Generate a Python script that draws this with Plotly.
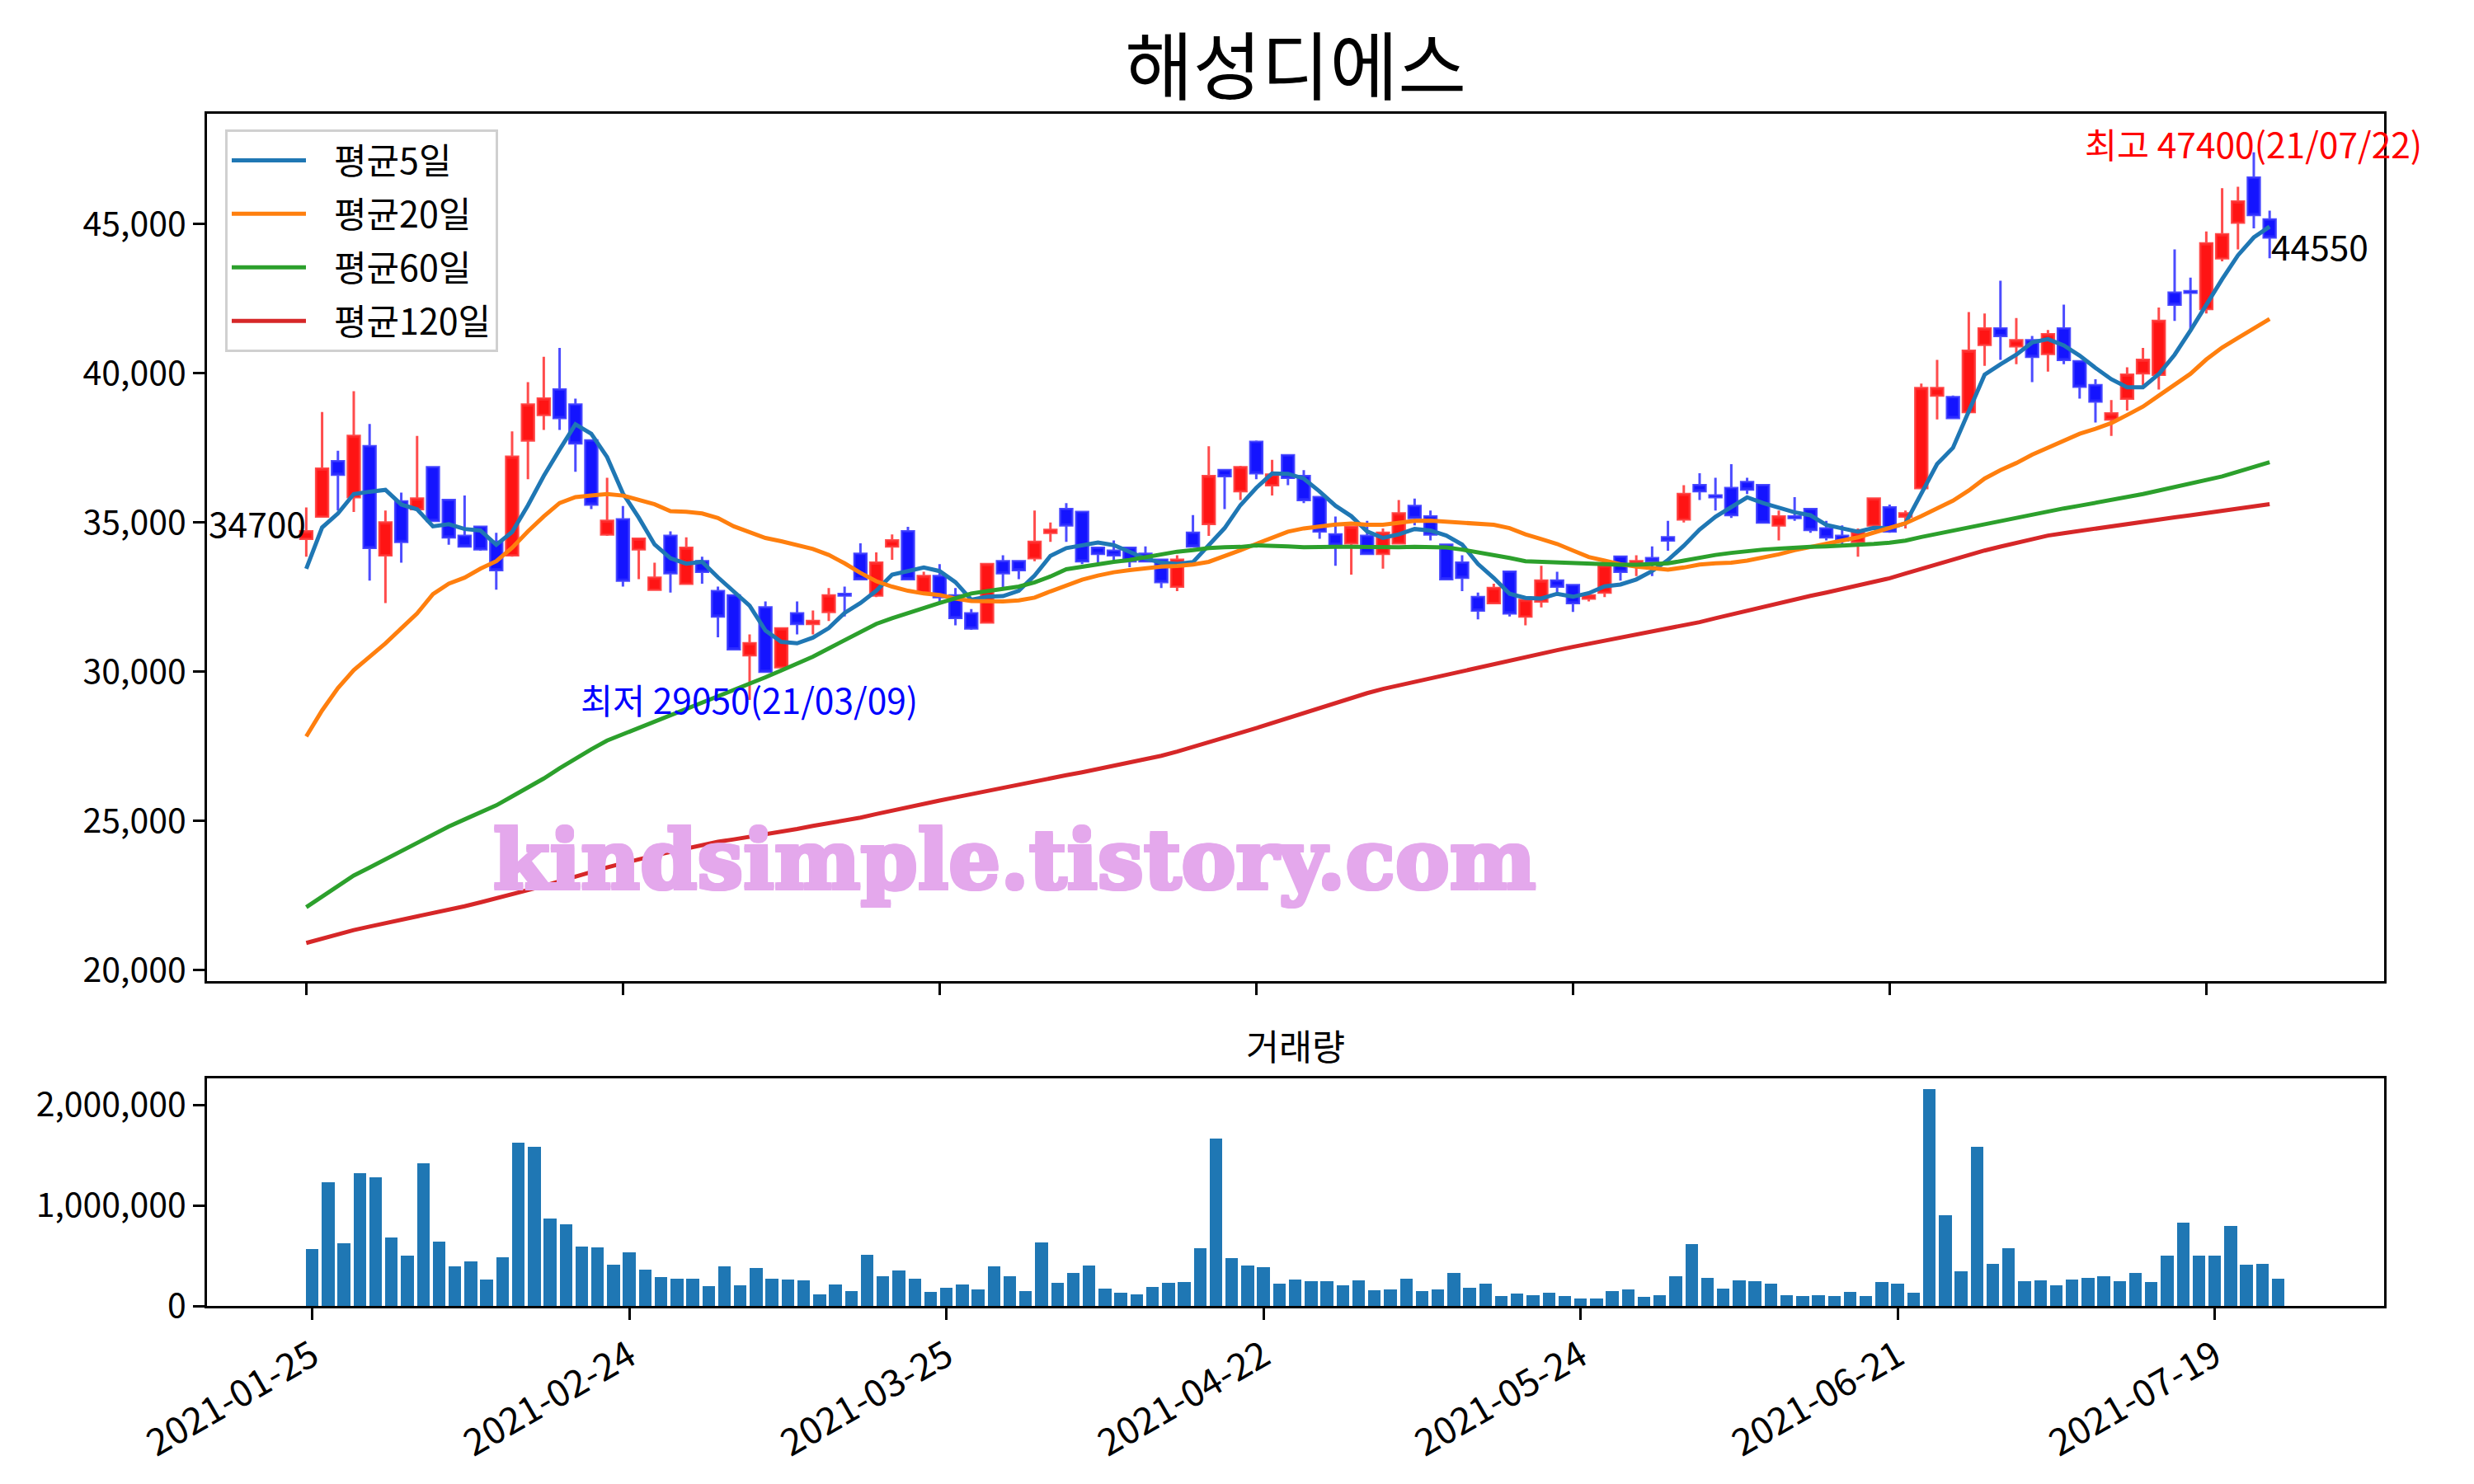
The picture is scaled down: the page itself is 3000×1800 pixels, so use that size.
import plotly.graph_objects as go

# ---------------- data ----------------
idx = list(range(125))

open_ = [34450, 35200, 37050, 35850, 37550, 33900, 35700, 35450, 36850, 35750,
         34550, 34850, 34350, 33900, 37750, 38600, 39450, 38950, 37750, 34600,
         35100, 34100, 32750, 34550, 32950, 33700, 32700, 32550, 30550, 32150,
         30150, 31950, 31600, 32000, 32600, 33950, 32550, 34200, 34700, 32650,
         33200, 32550, 31950, 31650, 33700, 33700, 33800, 34650, 35450, 35350,
         34150, 34050, 34150, 33950, 33750, 32850, 34650, 34950, 36750, 36050,
         37700, 36250, 37250, 36550, 35850, 34600, 34300, 34550, 33950, 34300,
         35550, 35200, 34250, 33650, 32500, 32300, 33350, 31850, 32350, 33050,
         32900, 32450, 32650, 33850, 33650, 33800, 34500, 35100, 36250, 35900,
         36150, 36350, 36250, 34900, 35200, 35450, 34800, 34550, 34350, 34900,
         35500, 35200, 36150, 39250, 39200, 38700, 40950, 41500, 40900, 41100,
         40650, 41500, 40400, 39600, 38450, 39150, 40000, 39950, 42700, 42750,
         42150, 43850, 45050, 46550, 45150]

high = [35500, 38700, 37400, 39400, 38300, 35400, 36000, 37900, 36850, 35750,
        35900, 34850, 34650, 38050, 39700, 40550, 40850, 39150, 37750, 36500,
        35550, 34450, 33650, 34700, 34500, 33850, 32850, 32550, 31250, 32350,
        31450, 32350, 32050, 32800, 32850, 34300, 34000, 34600, 34850, 33350,
        33600, 32800, 32100, 33600, 33900, 33700, 35400, 35000, 35650, 35350,
        34150, 34400, 34150, 34200, 33750, 33900, 35250, 37550, 36750, 36900,
        37750, 37100, 37250, 36750, 35850, 35200, 34850, 35050, 34800, 35750,
        35800, 35400, 34250, 33900, 32650, 32950, 33350, 32400, 33550, 33350,
        32900, 32550, 33700, 33850, 33900, 34200, 35050, 36250, 36650, 36500,
        36950, 36500, 36250, 35400, 35850, 35450, 35050, 34900, 34800, 35800,
        35600, 35400, 39650, 40450, 39250, 42050, 42000, 43100, 41850, 41250,
        41450, 42300, 40400, 39800, 39100, 40200, 40850, 42200, 44150, 43200,
        44750, 46200, 46250, 47400, 45450]

low = [33850, 35200, 35400, 35350, 33050, 32300, 33650, 35450, 35050, 34250,
       34200, 34050, 32750, 33850, 36450, 38100, 38100, 36700, 35450, 34550,
       32850, 33100, 32750, 32650, 32950, 32950, 31150, 30750, 29050, 30000,
       30150, 31250, 31250, 31700, 31850, 33100, 32500, 33750, 33100, 32650,
       32300, 31550, 31400, 31650, 32800, 33100, 33700, 34350, 34350, 33600,
       33650, 33700, 33500, 33700, 32800, 32700, 34200, 34550, 35450, 35750,
       36450, 35900, 36250, 35650, 34450, 33550, 33250, 33950, 33450, 34300,
       34900, 34400, 33100, 32700, 31750, 32300, 31850, 31550, 32150, 32650,
       32000, 32350, 32500, 33050, 33200, 33200, 34050, 35000, 35750, 35400,
       35150, 35950, 35000, 34400, 35050, 34650, 34400, 34250, 33850, 34900,
       34650, 34800, 36150, 38450, 38500, 38700, 40250, 40450, 40300, 39700,
       40050, 40300, 39150, 38350, 37900, 38750, 39600, 39450, 41750, 41450,
       42000, 43750, 44150, 44850, 43850]

close = [34700, 36800, 36600, 37900, 34150, 35000, 34350, 35800, 35050, 34500,
         34200, 34100, 33400, 37200, 38950, 39150, 38500, 37650, 35600, 35050,
         33050, 34450, 33150, 33300, 34150, 33350, 31850, 30750, 30950, 30000,
         31450, 31600, 31700, 32550, 32550, 33100, 33650, 34400, 33100, 33200,
         32500, 31800, 31450, 33600, 33300, 33400, 34350, 34750, 34900, 33700,
         33950, 33900, 33700, 33700, 33000, 33750, 34200, 36550, 36550, 36850,
         36650, 36600, 36500, 35750, 34700, 34250, 34850, 33950, 34650, 35300,
         35150, 34600, 33100, 33150, 32050, 32800, 31950, 32400, 33050, 32850,
         32300, 32550, 33550, 33350, 33700, 33700, 34400, 35950, 36050, 35850,
         35250, 36100, 35000, 35200, 35150, 34750, 34500, 34400, 34650, 35800,
         34700, 35300, 39500, 39500, 38500, 40750, 41500, 41250, 41100, 40550,
         41300, 40450, 39550, 39050, 38650, 39950, 40450, 41750, 42300, 42700,
         44350, 44650, 45750, 45300, 44550]

volume = [563000, 1227000, 620000, 1317000, 1276000, 678000, 497000, 1415000, 637000, 391000,
          440000, 260000, 481000, 1620000, 1579000, 866000, 809000, 587000, 579000, 407000,
          530000, 358000, 284000, 268000, 268000, 194000, 391000, 202000, 374000, 268000,
          260000, 251000, 112000, 210000, 145000, 505000, 292000, 350000, 268000, 137000,
          178000, 210000, 161000, 391000, 292000, 145000, 628000, 227000, 325000, 399000,
          169000, 128000, 112000, 186000, 227000, 235000, 571000, 1661000, 473000, 399000,
          383000, 219000, 260000, 243000, 243000, 202000, 251000, 153000, 161000, 268000,
          145000, 161000, 325000, 178000, 219000, 96000, 120000, 104000, 128000, 96000,
          71000, 71000, 145000, 161000, 87000, 104000, 292000, 612000, 276000, 169000,
          251000, 243000, 219000, 104000, 96000, 104000, 96000, 137000, 96000, 235000,
          219000, 128000, 2155000, 899000, 342000, 1579000, 415000, 571000, 243000, 251000,
          202000, 260000, 276000, 292000, 243000, 325000, 235000, 497000, 825000, 497000,
          497000, 792000, 407000, 415000, 268000]

ma5 = [33450, 34830, 35300, 35950, 36030, 36090, 35600, 35440, 34870, 34940,
       34780, 34730, 34250, 34680, 35570, 36560, 37440, 38290, 37970, 37190,
       35970, 35160, 34260, 33800, 33620, 33680, 33160, 32680, 32210, 31380,
       31000, 30950, 31140, 31460, 31970, 32300, 32710, 33250, 33360, 33490,
       33370, 33000, 32410, 32510, 32530, 32710, 33220, 33880, 34140, 34220,
       34330, 34240, 34030, 33790, 33650, 33610, 33670, 34240, 34810, 35580,
       36160, 36640, 36630, 36470, 36040, 35560, 35210, 34700, 34480, 34600,
       34780, 34730, 34560, 34260, 33610, 33140, 32610, 32470, 32450, 32610,
       32510, 32630, 32860, 32920, 33090, 33370, 33740, 34220, 34760, 35190,
       35500, 35840, 35650, 35480, 35340, 35240, 34920, 34800, 34690, 34820,
       34810, 34970, 35990, 36960, 37500, 38710, 39950, 40300, 40620, 41030,
       41140, 40930, 40590, 40180, 39800, 39530, 39530, 39970, 40620, 41430,
       42310, 43150, 43950, 44550, 44910]

ma20 = [27830, 28700, 29450, 30050, 30500, 30950, 31450, 31950, 32600, 32950,
        33150, 33450, 33700, 34150, 34700, 35200, 35650, 35850, 35900, 35950,
        35900, 35750, 35610, 35380, 35360, 35300, 35150, 34870, 34690, 34480,
        34370, 34230, 34110, 33910, 33630, 33310, 33030, 32850, 32710, 32620,
        32570, 32450, 32370, 32360, 32350, 32390, 32480, 32690, 32890, 33080,
        33220, 33330, 33400, 33460, 33520, 33540, 33590, 33680, 33860, 34070,
        34280, 34480, 34690, 34800, 34880, 34930, 34960, 34920, 34920, 34990,
        35050, 35060, 35030, 35010, 34970, 34920, 34810, 34600, 34440, 34280,
        34060, 33840, 33720, 33600, 33520, 33460, 33420, 33490, 33590, 33630,
        33650, 33720, 33820, 33930, 34070, 34180, 34290, 34390, 34500, 34660,
        34810, 34970, 35210, 35470, 35730, 36070, 36470, 36750, 36990, 37270,
        37510, 37730, 37970, 38140, 38330, 38600, 38880, 39250, 39610, 39980,
        40460, 40860, 41180, 41500, 41820]

ma60 = [22110, 22460, 22810, 23170, 23440, 23720, 23990, 24260, 24540, 24810,
        25050, 25280, 25520, 25820, 26120, 26420, 26760, 27100, 27400, 27690,
        27900, 28120, 28340, 28540, 28750, 28960, 29170, 29370, 29580, 29810,
        30040, 30270, 30500, 30780, 31050, 31330, 31600, 31790, 31970, 32130,
        32300, 32460, 32620, 32700, 32760, 32850, 32990, 33190, 33430, 33520,
        33610, 33680, 33740, 33830, 33930, 34020, 34070, 34140, 34170, 34180,
        34230, 34230, 34200, 34170, 34190, 34180, 34180, 34170, 34160, 34170,
        34180, 34180, 34160, 34090, 34000, 33930, 33810, 33700, 33680, 33650,
        33630, 33600, 33590, 33580, 33580, 33590, 33630, 33720, 33820, 33910,
        33980, 34050, 34090, 34120, 34160, 34180, 34200, 34220, 34240, 34280,
        34320, 34390, 34510, 34620, 34710, 34820, 34920, 35030, 35140, 35260,
        35370, 35470, 35560, 35650, 35740, 35840, 35950, 36070, 36180, 36300,
        36420, 36540, 36700, 36860, 37020]

ma120 = [20910, 21060, 21200, 21340, 21460, 21570, 21680, 21800, 21920, 22030,
         22140, 22270, 22400, 22540, 22680, 22820, 22980, 23140, 23300, 23440,
         23580, 23720, 23840, 23960, 24080, 24200, 24300, 24380, 24460, 24550,
         24640, 24730, 24830, 24920, 25010, 25110, 25230, 25350, 25460, 25570,
         25680, 25790, 25900, 26000, 26110, 26210, 26320, 26420, 26530, 26630,
         26740, 26840, 26950, 27050, 27180, 27320, 27470, 27630, 27790, 27950,
         28110, 28280, 28450, 28620, 28790, 28960, 29130, 29280, 29420, 29540,
         29650, 29770, 29890, 30010, 30130, 30260, 30390, 30510, 30620, 30720,
         30830, 30930, 31040, 31140, 31240, 31330, 31430, 31530, 31660, 31790,
         31920, 32050, 32170, 32300, 32420, 32540, 32650, 32770, 32880, 32990,
         33130, 33290, 33450, 33610, 33760, 33910, 34060, 34190, 34310, 34440,
         34560, 34640, 34720, 34790, 34870, 34940, 35010, 35090, 35170, 35240,
         35320, 35390, 35470, 35540, 35610]

tick_pos = [0, 20, 40, 60, 80, 100, 120]
tick_labels = ["2021-01-25", "2021-02-24", "2021-03-25", "2021-04-22",
               "2021-05-24", "2021-06-21", "2021-07-19"]
price_ticks = [20000, 25000, 30000, 35000, 40000, 45000]
volume_ticks = [0, 1000000, 2000000]

title_text = "해성디에스"
volume_title = "거래량"
ma_names = ["평균5일", "평균20일", "평균60일", "평균120일"]
ma_colors = ["#1f77b4", "#ff7f0e", "#2ca02c", "#d62728"]
high_label = "최고 47400(21/07/22)"
low_label = "최저 29050(21/03/09)"
watermark = "kindsimple.tistory.com"

# ---------------- figure ----------------
OFF = 8                      # page body margin of the html page
W, H = 3000 - OFF, 1800 - OFF
FONT = "Noto Sans CJK KR, Noto Sans, sans-serif"
WM_COLOR = "#E4A8EC"
NBSP = "\u00a0"


def px_x(x):
    return (x - OFF) / W


def px_y(y):
    return 1 - (y - OFF) / H


X0, X1 = px_x(251), px_x(2891)

fig = go.Figure()

fig.add_trace(go.Candlestick(
    x=idx, open=open_, high=high, low=low, close=close,
    increasing=dict(line=dict(color="rgba(255,45,45,0.85)", width=3),
                    fillcolor="rgba(255,0,0,0.92)"),
    decreasing=dict(line=dict(color="rgba(45,45,255,0.85)", width=3),
                    fillcolor="rgba(0,0,255,0.92)"),
    whiskerwidth=0, showlegend=False, xaxis="x", yaxis="y", hoverinfo="skip"))

for name, vals, col in zip(ma_names, [ma5, ma20, ma60, ma120], ma_colors):
    fig.add_trace(go.Scatter(x=idx, y=vals, mode="lines", name=NBSP * 3 + name,
                             line=dict(color=col, width=5),
                             xaxis="x", yaxis="y", legendgroup=name))

fig.add_trace(go.Bar(x=idx, y=volume, width=0.8, marker=dict(color="#1f77b4", line=dict(width=0)),
                     showlegend=False, xaxis="x2", yaxis="y2"))

axis_common = dict(showline=True, linewidth=3, linecolor="black", mirror=True,
                   ticks="outside", ticklen=14, tickwidth=3, tickcolor="black",
                   showgrid=False, zeroline=False, automargin=False,
                   tickfont=dict(size=41, family=FONT, color="black"))

fig.update_layout(
    width=W, height=H,
    margin=dict(l=0, r=0, t=0, b=0, pad=0, autoexpand=False),
    paper_bgcolor="white", plot_bgcolor="white",
    boxgap=0.25, boxgroupgap=0.0,
    bargap=0,
    font=dict(family=FONT, size=41, color="black"),
    title=dict(text=title_text, x=(X0 + X1) / 2, xanchor="center",
               y=px_y(82), yanchor="middle", automargin=False,
               font=dict(size=90, family=FONT, color="black")),
    xaxis=dict(domain=[X0, X1], range=[-6.27, 131.23], tickvals=tick_pos,
               showticklabels=False, rangeslider=dict(visible=False), anchor="y",
               **axis_common),
    yaxis=dict(domain=[px_y(1190), px_y(138)], range=[19632, 48693],
               tickvals=price_ticks, tickformat=",", anchor="x", **axis_common),
    xaxis2=dict(domain=[X0, X1], range=[-6.64, 130.68], tickvals=tick_pos,
                ticktext=tick_labels, tickangle=-30, anchor="y2", **axis_common),
    yaxis2=dict(domain=[px_y(1584), px_y(1308)], range=[0, 2263000],
                tickvals=volume_ticks, tickformat=",", anchor="x2", **axis_common),
    legend=dict(x=px_x(273), y=px_y(157), xanchor="left", yanchor="top",
                bgcolor="rgba(255,255,255,0.85)", bordercolor="#d0d0d0", borderwidth=3,
                font=dict(size=43, family=FONT, color="black"),
                tracegroupgap=6, itemwidth=90),
)
fig.update_xaxes(tickfont=dict(size=45), selector=dict(anchor="y2"))

wm_shadow = ", ".join(f"{dx}px {dy}px 0px {WM_COLOR}" for dx, dy in
                      [(2, 0), (-2, 0), (0, 2), (0, -2), (2, 2), (-2, -2), (2, -2), (-2, 2)])

ann_font = dict(size=42.5, family=FONT)
annotations = [
    dict(text=volume_title, x=(X0 + X1) / 2, y=px_y(1267), xref="paper", yref="paper",
         showarrow=False, xanchor="center", yanchor="middle",
         font=dict(size=43.5, family=FONT, color="black")),
    dict(text=f"<b>{watermark}</b>", x=44.7, y=23700, xref="x", yref="y",
         showarrow=False, xanchor="center", yanchor="middle",
         font=dict(size=99, family="DejaVu Serif", color=WM_COLOR, shadow=wm_shadow)),
    dict(text=str(close[0]), x=idx[0] + 0.1, y=35000, xref="x", yref="y", showarrow=False,
         xanchor="right", yanchor="middle", font=dict(color="black", **ann_font)),
    dict(text=str(close[-1]), x=idx[-1], y=44300, xref="x", yref="y", showarrow=False,
         xanchor="left", yanchor="middle", font=dict(color="black", **ann_font)),
    dict(text=high_label, x=123, y=47700, xref="x", yref="y", showarrow=False,
         xanchor="center", yanchor="middle", font=dict(color="red", **ann_font)),
    dict(text=low_label, x=28, y=29100, xref="x", yref="y", showarrow=False,
         xanchor="center", yanchor="middle", font=dict(color="blue", **ann_font)),
]
fig.update_layout(annotations=annotations)

fig.write_html("out.html")
